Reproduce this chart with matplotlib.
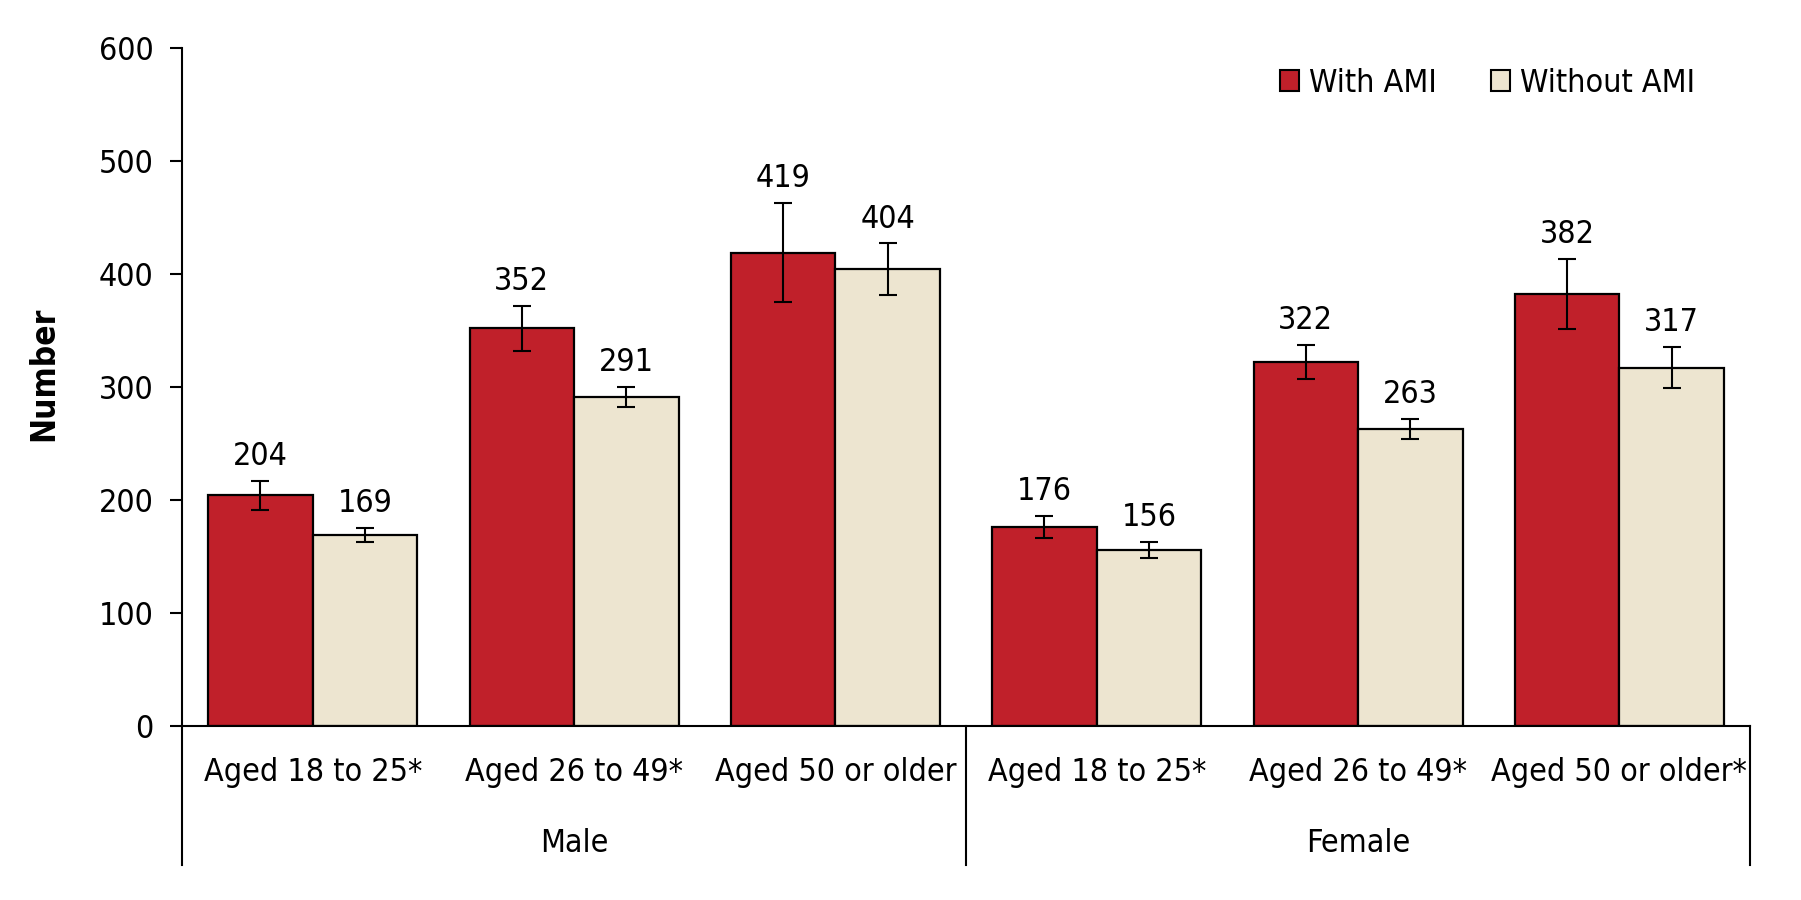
import numpy as np
import matplotlib
matplotlib.use('Agg')
import matplotlib.pyplot as plt
from matplotlib.patches import Patch

plt.rcParams['font.family'] = ['DejaVu Sans']
plt.rcParams['font.stretch'] = 'condensed'

# data
groups = ['Male', 'Female']
ages = ['Aged 18 to 25*', 'Aged 26 to 49*', 'Aged 50 or older',
        'Aged 18 to 25*', 'Aged 26 to 49*', 'Aged 50 or older*']
with_ami = [204, 352, 419, 176, 322, 382]
without_ami = [169, 291, 404, 156, 263, 317]
with_err = [13, 20, 44, 10, 15, 31]
without_err = [6, 9, 23, 7, 9, 18]
series_names = ['With AMI', 'Without AMI']

red = '#C0202A'
beige = '#EDE5D0'
fs = 23

fig = plt.figure(figsize=(18.01, 9), dpi=100)
ax = fig.add_axes([0.1011, 0.1933, 0.8706, 0.7534])

x = np.arange(len(ages))
w = 0.4
err_kw = dict(ecolor='black', elinewidth=1.5, capsize=6.5, capthick=1.5)
ax.bar(x - w / 2, with_ami, w, color=red, edgecolor='black', linewidth=1.6,
       yerr=with_err, error_kw=err_kw, zorder=2)
ax.bar(x + w / 2, without_ami, w, color=beige, edgecolor='black', linewidth=1.6,
       yerr=without_err, error_kw=err_kw, zorder=2)

# value labels sit above the error bars
for xi, v, e in zip(x - w / 2, with_ami, with_err):
    ax.annotate(str(v), (xi, v + e), xytext=(0, 11.5), textcoords='offset points',
                ha='center', va='baseline', fontsize=fs)
for xi, v, e in zip(x + w / 2, without_ami, without_err):
    ax.annotate(str(v), (xi, v + e), xytext=(0, 11.5), textcoords='offset points',
                ha='center', va='baseline', fontsize=fs)

ax.set_xlim(-0.5, len(ages) - 0.5)
ax.set_ylim(0, 600)
ax.set_yticks(np.arange(0, 601, 100))
ax.tick_params(axis='y', labelsize=fs, length=8.6, width=1.5, pad=12)
ax.set_xticks(x)
ax.set_xticklabels(ages)
ax.tick_params(axis='x', labelsize=fs, length=0, pad=22)

for s in ['top', 'right']:
    ax.spines[s].set_visible(False)
ax.spines['left'].set_linewidth(1.5)
ax.spines['bottom'].set_linewidth(1.5)

# hierarchical category axis
for xv in [0, 0.5, 1]:
    ax.plot([xv, xv], [0, -0.205], color='black', lw=1.5,
            transform=ax.transAxes, clip_on=False)
for i, g in enumerate(groups):
    ax.text(0.25 + 0.5 * i, -0.1726, g, transform=ax.transAxes,
            ha='center', va='center', fontsize=fs)

ax.set_ylabel('Number', fontsize=24, fontweight='bold')
ax.yaxis.set_label_coords(-0.078, 0.52)

handles = [Patch(facecolor=red, edgecolor='black', linewidth=1.5),
           Patch(facecolor=beige, edgecolor='black', linewidth=1.5)]
ax.legend(handles, series_names, loc='center right', bbox_to_anchor=(0.975, 0.948),
          ncol=2, frameon=False, fontsize=fs, borderpad=0, handlelength=0.6,
          handleheight=0.6, handletextpad=0.3, columnspacing=1.7)

fig.savefig('out.png', dpi=100)
